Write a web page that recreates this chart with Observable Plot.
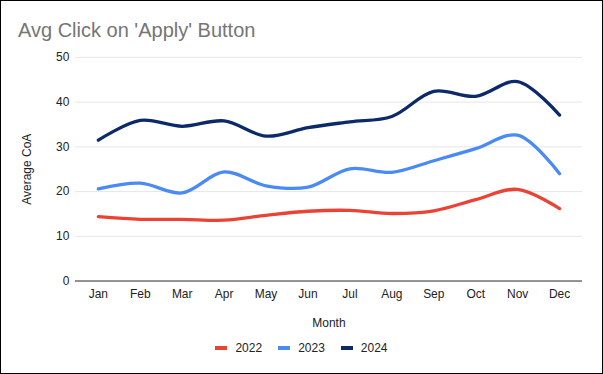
<!DOCTYPE html>
<html><head><meta charset="utf-8">
<script src="https://cdn.jsdelivr.net/npm/d3@7"></script>
<script src="https://cdn.jsdelivr.net/npm/@observablehq/plot@0.6"></script>
<style>
html,body{margin:0;padding:0;background:#fff;font-family:"Liberation Sans",Arial,sans-serif;}
#wrap{position:relative;width:603px;height:374px;box-sizing:border-box;border:1px solid #000;overflow:hidden;background:#fff}
#title{position:absolute;left:17px;top:18px;font-size:20px;line-height:23px;color:#757575;white-space:nowrap}
#chart{position:absolute;left:-1px;top:-1px}
#legend{position:absolute;top:340px;left:-1px;width:603px;display:flex;justify-content:center;gap:16px;font-size:12px;color:#222}
.item{display:flex;align-items:center;gap:8px}
.sw{width:12px;height:4px;display:inline-block}
</style>
</head><body>
<div id="wrap">
  <div id="chart"></div>
  <div id="title">Avg Click on 'Apply' Button</div>
  <div id="legend"></div>
</div>
<script>
const months = ["Jan","Feb","Mar","Apr","May","Jun","Jul","Aug","Sep","Oct","Nov","Dec"];
const series = ["2022","2023","2024"];
const v2022 = [14.4,13.8,13.8,13.6,14.7,15.6,15.8,15.1,15.7,18.2,20.5,16.2];
const v2023 = [20.6,21.9,19.7,24.4,21.3,21.0,25.1,24.3,26.9,29.6,32.6,24.0];
const v2024 = [31.5,35.9,34.6,35.8,32.4,34.3,35.6,36.8,42.4,41.3,44.6,37.1];
const colors = ["#ea4335","#4a8af4","#0c2a6a"];
const yTicks = [0,10,20,30,40,50];

const vals = [v2022, v2023, v2024];
const data = [];
series.forEach((s, i) => months.forEach((m, j) => data.push({month: m, year: s, value: vals[i][j]})));

const chart = Plot.plot({
  width: 603, height: 374,
  marginLeft: 75, marginRight: 20, marginTop: 57, marginBottom: 93,
  style: {fontFamily: "Liberation Sans, Arial, sans-serif", fontSize: "12px", color: "#222", background: "transparent"},
  x: {type: "point", domain: months, padding: 0.5},
  y: {domain: [0, 50]},
  color: {domain: series, range: colors},
  marks: [
    Plot.gridY(yTicks, {stroke: "#e6e6e6", strokeOpacity: 1}),
    Plot.ruleY([0], {stroke: "#333", strokeWidth: 1}),
    Plot.axisX({tickSize: 0, tickPadding: 8, fontSize: 12, label: "Month", labelAnchor: "center", labelArrow: "none", labelOffset: 46}),
    Plot.axisY(yTicks, {tickSize: 0, tickPadding: 6, fontSize: 12, label: "Average CoA", labelAnchor: "center", labelArrow: "none", labelOffset: 53}),
    Plot.line(data, {x: "month", y: "value", z: "year", stroke: "year", strokeWidth: 3.3, curve: "catmull-rom"})
  ]
});
document.getElementById("chart").appendChild(chart);

const leg = document.getElementById("legend");
series.forEach((s, i) => {
  const it = document.createElement("div"); it.className = "item";
  const sw = document.createElement("span"); sw.className = "sw"; sw.style.background = colors[i];
  const t = document.createElement("span"); t.textContent = s;
  it.appendChild(sw); it.appendChild(t); leg.appendChild(it);
});
</script>
</body></html>
